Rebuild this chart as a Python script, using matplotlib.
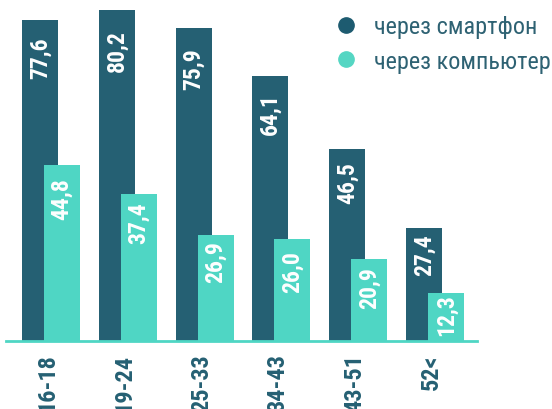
import matplotlib

matplotlib.use("Agg")
import matplotlib.pyplot as plt
import numpy as np
from matplotlib import font_manager as fm
from matplotlib.lines import Line2D

DARK, LIGHT = "#256073", "#4fd6c4"
TEXT = "#2e6273"

groups = ["16-18", "19-24", "25-33", "34-43", "43-51", "52<"]
smartphone = [77.6, 80.2, 75.9, 64.1, 46.5, 27.4]
computer = [44.8, 37.4, 26.9, 26.0, 20.9, 12.3]
labels = ["через смартфон", "через компьютер"]

# the value labels were hand-placed in the original: drop below bar top, in px
drop_dark = [17, 20, 21, 17, 13, 6]
drop_light = [13, 8, 6, 12, 8, 1]

# pick a narrow face if one is installed
names = {f.name for f in fm.fontManager.ttflist}
COND, STRETCH = "DejaVu Sans", "condensed"
for cand in ["Roboto Condensed", "Liberation Sans Narrow", "Open Sans Condensed"]:
    if cand in names:
        COND, STRETCH = cand, "normal"
        break
plt.rcParams["font.family"] = [COND, "DejaVu Sans"]
plt.rcParams["font.stretch"] = STRETCH


def fmt(v):
    return f"{v:.1f}".replace(".", ",")


fig = plt.figure(figsize=(5.52, 4.10), dpi=100)
ax = fig.add_axes([6 / 552, 68 / 410, 471 / 552, 342 / 410])
ax2 = ax.twinx()  # second series was drawn on its own scale in the original

x = np.arange(len(groups))
w, off = 0.469, 0.286

ax.bar(x, smartphone, width=w, color=DARK, zorder=2)
ax2.bar(x + off, computer, width=w, color=LIGHT, zorder=3)
ax.set_ylim(0, 82.8)
ax2.set_ylim(0, 87.0)
ax.set_xlim(-0.443, 5.69)

for a, xs, vals, drops in [(ax, x, smartphone, drop_dark), (ax2, x + off, computer, drop_light)]:
    for xi, v, d in zip(xs, vals, drops):
        a.annotate(fmt(v), (xi, v), xytext=(0, -(d - 1) * 0.72), textcoords="offset points",
                   rotation=90, ha="center", va="top", color="white",
                   fontsize=17, fontweight="bold")

for a in (ax, ax2):
    for s in ["left", "right", "top"]:
        a.spines[s].set_visible(False)
    a.set_yticks([])
ax.spines["bottom"].set_color(LIGHT)
ax.spines["bottom"].set_linewidth(2)
ax2.spines["bottom"].set_visible(False)

ax.set_xticks(x + 0.1)
ax.set_xticklabels(groups, rotation=90, fontsize=17.5, fontweight="bold", color=DARK, va="top")
ax.tick_params(axis="x", length=0, pad=9)

handles = [Line2D([], [], marker="o", ls="", color=c, markersize=11)
           for c in ["#1d5b70", "#55d6c3"]]
leg = ax2.legend(handles, labels, loc="upper left", bbox_to_anchor=(319 / 552, 1 - 4 / 410),
                 bbox_transform=fig.transFigure, frameon=False, fontsize=17.5,
                 handletextpad=0.55, labelspacing=0.48, borderpad=0, handlelength=1.2)
for t in leg.get_texts():
    t.set_color(TEXT)

fig.savefig("out.png", dpi=100)
